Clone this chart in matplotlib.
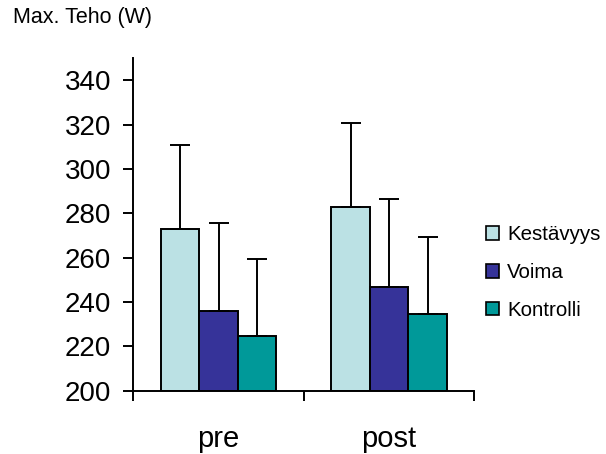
import matplotlib
matplotlib.use("Agg")
import matplotlib.pyplot as plt
from matplotlib.patches import Patch
import numpy as np

plt.rcParams['font.family'] = ['Liberation Sans', 'DejaVu Sans']

categories = ["pre", "post"]
series = ["Kestävyys", "Voima", "Kontrolli"]
means = {
    "Kestävyys": [273, 283],
    "Voima": [236, 247],
    "Kontrolli": [224.5, 234.5],
}
errors = {
    "Kestävyys": [38, 38],
    "Voima": [39.5, 39.5],
    "Kontrolli": [35, 35],
}
colors = ["#BBE1E4", "#363399", "#009999"]
yticks = [200, 220, 240, 260, 280, 300, 320, 340]

fig = plt.figure(figsize=(6.06, 4.54), dpi=100)
ax = fig.add_axes([0.22, 0.1394, 0.5627, 0.7322])

x = np.arange(len(categories)) + 0.5
width = 0.2256
handles = []
for i, (s, c) in enumerate(zip(series, colors)):
    pos = x + (i - 1) * width
    ax.bar(pos, [m - 200 for m in means[s]], bottom=200, width=width,
           color=c, edgecolor="black", linewidth=1.4, zorder=2)
    ax.errorbar(pos, means[s], yerr=[[0] * len(categories), errors[s]],
                fmt="none", ecolor="black", elinewidth=1.4, capsize=7,
                capthick=1.4, zorder=3)
    handles.append(Patch(facecolor=c, edgecolor="black", linewidth=1.2, label=s))

ax.set_xlim(0, 2)
ax.set_ylim(200, 350)
ax.set_yticks(yticks)
ax.set_yticklabels([str(t) for t in yticks])
ax.set_xticks([0, 1, 2])
ax.set_xticklabels(["", "", ""])
ax.set_xticks(x, minor=True)
ax.set_xticklabels(categories, minor=True)
ax.tick_params(axis="x", which="minor", length=0, pad=25, labelsize=21)
ax.tick_params(axis="x", which="major", direction="out", length=7.5, width=1.4)
ax.tick_params(axis="y", direction="out", length=7, width=1.4, pad=9, labelsize=20)

for side in ["top", "right"]:
    ax.spines[side].set_visible(False)
for side in ["left", "bottom"]:
    ax.spines[side].set_linewidth(1.4)

fig.text(13 / 606, 1 - 7.5 / 454, "Max. Teho (W)", fontsize=15.5, va="top", ha="left")

fig.legend(handles=handles, loc="center left", bbox_to_anchor=(486 / 606, 1 - 272.5 / 454),
           frameon=False, fontsize=14.8, handlelength=0.64, handleheight=0.64,
           handletextpad=0.4, labelspacing=0.92, borderaxespad=0, borderpad=0)

fig.savefig("out.png", dpi=100)
